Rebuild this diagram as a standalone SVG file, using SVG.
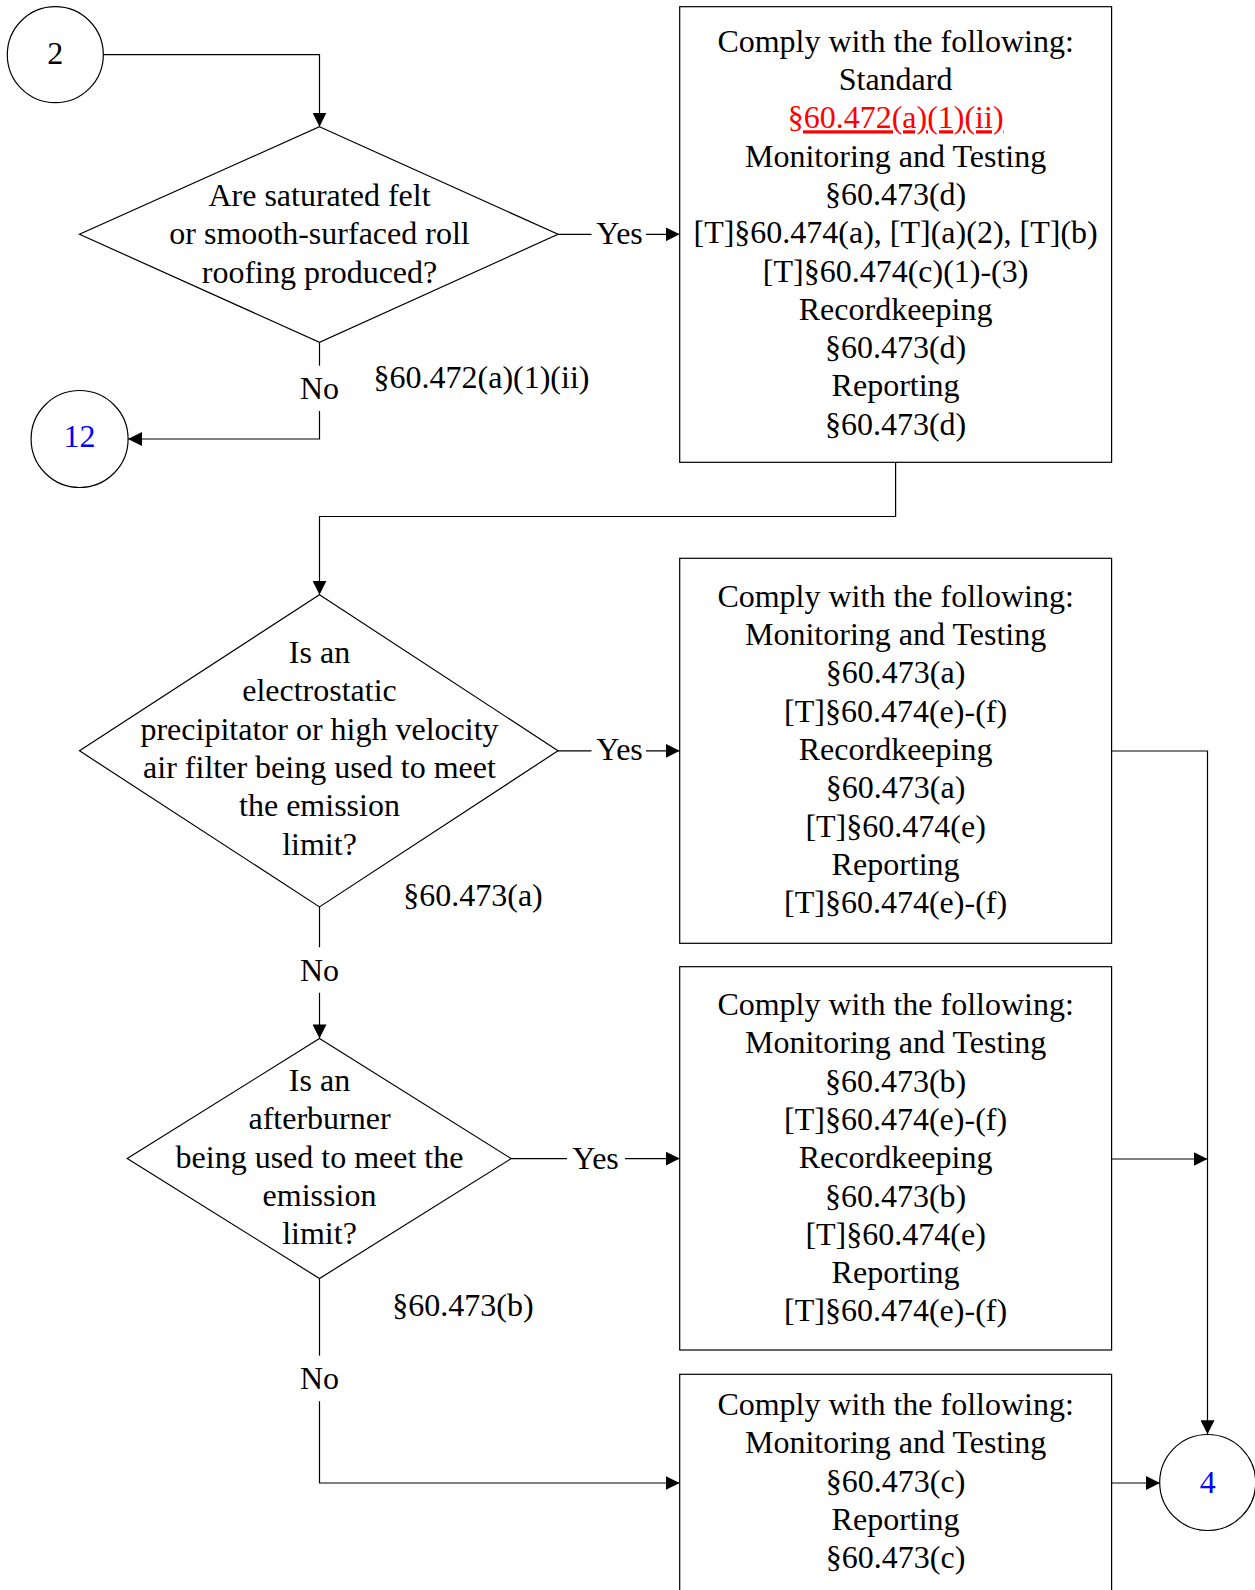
<svg xmlns="http://www.w3.org/2000/svg" width="1255" height="1590" viewBox="0 0 1255 1590">
<style>
text{font-family:"Liberation Serif","Times New Roman",serif;font-size:32px;fill:#000;text-anchor:middle}
.shape{fill:#fff;stroke:#000;stroke-width:1.2}
.conn{fill:none;stroke:#000;stroke-width:1.2}
.blue{fill:#0000ff}
.red{fill:#ff0000;text-decoration:underline}
.lab{fill:#000}
</style>
<defs>
<marker id="arr" markerUnits="userSpaceOnUse" markerWidth="14" markerHeight="14" refX="14" refY="7" orient="auto">
<path d="M0,0 L14,7 L0,14 z" fill="#000"/>
</marker>
</defs>
<rect x="0" y="0" width="1255" height="1590" fill="#fff"/>

<g id="connectors">
<path class="conn" d="M103.3,54.7 H319.5 V126.7" marker-end="url(#arr)"/>
<path class="conn" d="M558,234.3 H591.5"/>
<path class="conn" d="M646,234.3 H679.7" marker-end="url(#arr)"/>
<path class="conn" d="M319.5,342.3 V365.7"/>
<path class="conn" d="M319.5,411 V439 H128" marker-end="url(#arr)"/>
<path class="conn" d="M895.6,462.3 V516.5 H319.5 V594.7" marker-end="url(#arr)"/>
<path class="conn" d="M558,750.8 H591.5"/>
<path class="conn" d="M646,750.8 H679.7" marker-end="url(#arr)"/>
<path class="conn" d="M319.5,906.9 V947.2"/>
<path class="conn" d="M319.5,992.8 V1038.4" marker-end="url(#arr)"/>
<path class="conn" d="M511.2,1158.6 H567"/>
<path class="conn" d="M625,1158.6 H679.7" marker-end="url(#arr)"/>
<path class="conn" d="M319.5,1278.5 V1355.7"/>
<path class="conn" d="M319.5,1401.3 V1483 H679.7" marker-end="url(#arr)"/>
<path class="conn" d="M1111.6,751 H1207.5 V1434.3" marker-end="url(#arr)"/>
<path class="conn" d="M1111.6,1159 H1207.5" marker-end="url(#arr)"/>
<path class="conn" d="M1111.6,1483 H1160" marker-end="url(#arr)"/>
<text x="619.5" y="243.5">Yes</text>
<text x="619.5" y="759.8">Yes</text>
<text x="595.5" y="1168.5">Yes</text>
<text x="319.5" y="399">No</text>
<text x="319.5" y="980.5">No</text>
<text x="319.5" y="1389">No</text>
<text x="481.5" y="388">§60.472(a)(1)(ii)</text>
<text x="473" y="906">§60.473(a)</text>
<text x="463" y="1315.5">§60.473(b)</text>
</g>

<g id="start2">
<circle class="shape" cx="55.3" cy="54.7" r="48"/>
<text x="55.3" y="63.5">2</text>
</g>

<g id="end12">
<circle class="shape" cx="79.6" cy="439" r="48.5"/>
<text class="blue" x="79.6" y="447">12</text>
</g>

<g id="end4">
<circle class="shape" cx="1207.7" cy="1482.5" r="48"/>
<text class="blue" x="1207.7" y="1492.5">4</text>
</g>

<g id="decision1">
<polygon class="shape" points="319.5,126.7 558,234.3 319.5,342.3 79.5,234.3"/>
<text x="319.5" y="206">Are saturated felt</text>
<text x="319.5" y="244.3">or smooth-surfaced roll</text>
<text x="319.5" y="282.6">roofing produced?</text>
</g>

<g id="box1">
<rect class="shape" x="679.7" y="6.7" width="431.9" height="455.6"/>
<text x="895.6" y="51.7">Comply with the following:</text>
<text x="895.6" y="90">Standard</text>
<text class="red" x="895.6" y="128.3">§60.472(a)(1)(ii)</text>
<text x="895.6" y="166.6">Monitoring and Testing</text>
<text x="895.6" y="204.9">§60.473(d)</text>
<text x="895.6" y="243.2">[T]§60.474(a), [T](a)(2), [T](b)</text>
<text x="895.6" y="281.5">[T]§60.474(c)(1)-(3)</text>
<text x="895.6" y="319.8">Recordkeeping</text>
<text x="895.6" y="358.1">§60.473(d)</text>
<text x="895.6" y="396.4">Reporting</text>
<text x="895.6" y="434.7">§60.473(d)</text>
</g>

<g id="decision2">
<polygon class="shape" points="319.5,594.7 558,750.8 319.5,906.9 79.5,750.8"/>
<text x="319.5" y="663">Is an</text>
<text x="319.5" y="701.3">electrostatic</text>
<text x="319.5" y="739.6">precipitator or high velocity</text>
<text x="319.5" y="777.9">air filter being used to meet</text>
<text x="319.5" y="816.2">the emission</text>
<text x="319.5" y="854.5">limit?</text>
</g>

<g id="box2">
<rect class="shape" x="679.7" y="558.3" width="431.9" height="385"/>
<text x="895.6" y="606.7">Comply with the following:</text>
<text x="895.6" y="645">Monitoring and Testing</text>
<text x="895.6" y="683.3">§60.473(a)</text>
<text x="895.6" y="721.6">[T]§60.474(e)-(f)</text>
<text x="895.6" y="759.9">Recordkeeping</text>
<text x="895.6" y="798.2">§60.473(a)</text>
<text x="895.6" y="836.5">[T]§60.474(e)</text>
<text x="895.6" y="874.8">Reporting</text>
<text x="895.6" y="913.1">[T]§60.474(e)-(f)</text>
</g>

<g id="decision3">
<polygon class="shape" points="319.5,1038.4 511.2,1158.6 319.5,1278.5 127.2,1158.6"/>
<text x="319.5" y="1090.9">Is an</text>
<text x="319.5" y="1129.2">afterburner</text>
<text x="319.5" y="1167.5">being used to meet the</text>
<text x="319.5" y="1205.8">emission</text>
<text x="319.5" y="1244.1">limit?</text>
</g>

<g id="box3">
<rect class="shape" x="679.7" y="966.7" width="431.9" height="383.3"/>
<text x="895.6" y="1015">Comply with the following:</text>
<text x="895.6" y="1053.3">Monitoring and Testing</text>
<text x="895.6" y="1091.6">§60.473(b)</text>
<text x="895.6" y="1129.9">[T]§60.474(e)-(f)</text>
<text x="895.6" y="1168.2">Recordkeeping</text>
<text x="895.6" y="1206.5">§60.473(b)</text>
<text x="895.6" y="1244.8">[T]§60.474(e)</text>
<text x="895.6" y="1283.1">Reporting</text>
<text x="895.6" y="1321.4">[T]§60.474(e)-(f)</text>
</g>

<g id="box4">
<rect class="shape" x="679.7" y="1374.3" width="431.9" height="240"/>
<text x="895.6" y="1415">Comply with the following:</text>
<text x="895.6" y="1453.3">Monitoring and Testing</text>
<text x="895.6" y="1491.6">§60.473(c)</text>
<text x="895.6" y="1529.9">Reporting</text>
<text x="895.6" y="1568.2">§60.473(c)</text>
</g>
</svg>
